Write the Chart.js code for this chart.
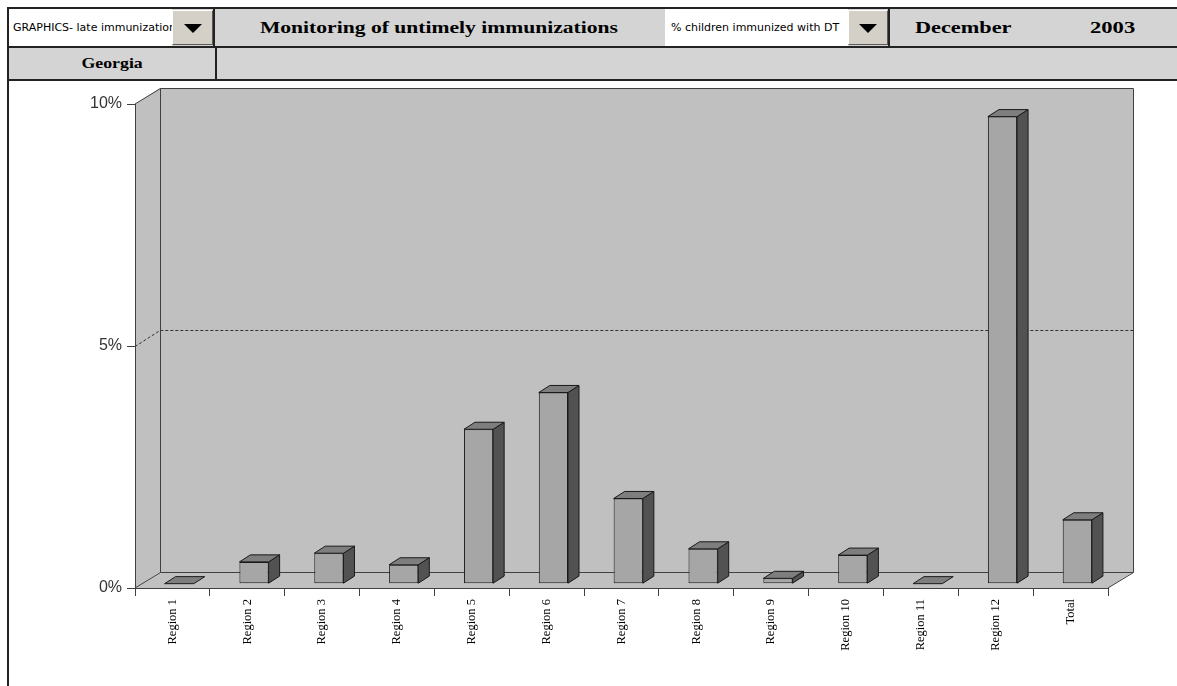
<!DOCTYPE html>
<html>
<head>
<meta charset="utf-8">
<title>Monitoring of untimely immunizations</title>
<script src="https://cdn.jsdelivr.net/npm/chart.js@4.4.1/dist/chart.umd.min.js"></script>
<style>
  html, body { margin: 0; padding: 0; background: #fff; }
  body { width: 1177px; height: 686px; position: relative; overflow: hidden; }
  .abs { position: absolute; box-sizing: border-box; }
  .frame { left: 7px; top: 7px; width: 1170px; height: 679px; border-left: 2px solid #222; border-top: 2px solid #222; }
  .head { background: #d4d4d4; }
  .white { background: #fff; }
  .line { background: #222; }
  .small { font-family: "DejaVu Sans", sans-serif; font-size: 11px; color: #000; white-space: nowrap; overflow: hidden; line-height: 37px; padding-left: 4px; }
  .bold { font-family: "Liberation Serif", "Times New Roman", serif; font-weight: bold; color: #000; white-space: nowrap; }
  .wide { display: inline-block; transform: scaleX(1.27); }
  .btn { background: #d4d0c8; border-top: 1px solid #fff; border-left: 1px solid #fff; border-right: 1px solid #5a5a5a; border-bottom: 1px solid #5a5a5a; }
  .tri { position: absolute; left: 50%; top: 50%; width: 0; height: 0; margin-left: -9px; margin-top: -4px;
         border-left: 9px solid transparent; border-right: 9px solid transparent; border-top: 9px solid #000; }
  #chart { position: absolute; left: 9px; top: 82px; }
</style>
</head>
<body>
<div class="abs frame"></div>

<!-- header band -->
<div class="abs head" style="left:9px;top:9px;width:1168px;height:71px;"></div>

<div class="abs white small" style="left:9px;top:9px;width:163px;height:37px;">GRAPHICS- late immunization</div>
<div class="abs btn" style="left:172px;top:10px;width:41px;height:35px;"><div class="tri"></div></div>
<div class="abs line" style="left:213px;top:9px;width:2px;height:38px;"></div>

<div class="abs bold" style="left:215px;top:9px;width:448px;height:37px;line-height:37px;text-align:center;font-size:17px;"><span class="wide">Monitoring of untimely immunizations</span></div>

<div class="abs white small" style="left:665px;top:9px;width:183px;height:37px;padding-left:6px;">% children immunized with DT</div>
<div class="abs btn" style="left:848px;top:10px;width:40px;height:35px;"><div class="tri"></div></div>
<div class="abs line" style="left:888px;top:9px;width:2px;height:38px;"></div>

<div class="abs bold" style="left:915px;top:9px;height:37px;line-height:37px;font-size:17px;"><span class="wide" style="transform-origin:left center;transform:scaleX(1.31);">December</span></div>
<div class="abs bold" style="left:1090px;top:9px;height:37px;line-height:37px;font-size:17px;"><span class="wide" style="transform-origin:left center;transform:scaleX(1.33);">2003</span></div>

<div class="abs line" style="left:9px;top:46px;width:1168px;height:2px;"></div>

<div class="abs bold" style="left:9px;top:48px;width:206px;height:31px;line-height:31px;text-align:center;font-size:14px;"><span class="wide">Georgia</span></div>
<div class="abs line" style="left:215px;top:48px;width:2px;height:32px;"></div>
<div class="abs line" style="left:9px;top:79px;width:1168px;height:2px;"></div>

<canvas id="chart" width="1168" height="604"></canvas>

<script>
// Regions and share of children immunized late with DT, in percent
const regions = ['Region 1', 'Region 2', 'Region 3', 'Region 4', 'Region 5', 'Region 6', 'Region 7',
                 'Region 8', 'Region 9', 'Region 10', 'Region 11', 'Region 12', 'Total'];
const lateDT = [0, 0.45, 0.63, 0.39, 3.19, 3.95, 1.76, 0.72, 0.11, 0.59, 0, 9.65, 1.32];
const yTicks = [0, 5, 10];

// depth of the box (back wall offset) and where the columns sit inside it
const depth = { dx: 25, dy: -16 };
const barShift = 0.27;   // fraction of depth in front of the columns
const barDepth = 0.44;   // fraction of depth taken by a column

const edge = '#404040';

// walls, floor and the dashed gridline on the back wall
const walls3d = {
    id: 'walls3d',
    beforeDraw(chart) {
        const ctx = chart.ctx;
        const y = chart.scales.y;
        const xl = chart.chartArea.left, xr = chart.chartArea.right;
        const yb = y.getPixelForValue(yTicks[0]);
        const yt = y.getPixelForValue(yTicks[yTicks.length - 1]);
        const dx = depth.dx, dy = depth.dy;

        ctx.save();
        ctx.fillStyle = '#c0c0c0';
        ctx.strokeStyle = edge;
        ctx.lineWidth = 1;

        // left wall
        ctx.beginPath();
        ctx.moveTo(xl, yb); ctx.lineTo(xl, yt); ctx.lineTo(xl + dx, yt + dy); ctx.lineTo(xl + dx, yb + dy);
        ctx.closePath();
        ctx.fill();

        // back wall
        ctx.fillRect(xl + dx, yt + dy, xr - xl, yb - yt);

        // floor
        ctx.beginPath();
        ctx.moveTo(xl, yb); ctx.lineTo(xr, yb); ctx.lineTo(xr + dx, yb + dy); ctx.lineTo(xl + dx, yb + dy);
        ctx.closePath();
        ctx.fill();

        // dashed gridlines between min and max
        ctx.setLineDash([3, 2]);
        ctx.strokeStyle = '#333';
        yTicks.slice(1, -1).forEach(v => {
            const py = Math.round(y.getPixelForValue(v)) + 0.5;
            ctx.beginPath();
            ctx.moveTo(xl, py);
            ctx.lineTo(xl + dx, py + dy);
            ctx.lineTo(xr + dx, py + dy);
            ctx.stroke();
        });
        ctx.setLineDash([]);

        // box edges
        ctx.strokeStyle = edge;
        const bx = Math.round(xl + dx) + 0.5, bxr = Math.round(xr + dx) + 0.5;
        const byt = Math.round(yt + dy) + 0.5, byb = Math.round(yb + dy) + 0.5;
        ctx.beginPath();
        ctx.moveTo(xl, yt); ctx.lineTo(bx, byt);
        ctx.lineTo(bxr, byt); ctx.lineTo(bxr, byb);
        ctx.moveTo(bx, byt); ctx.lineTo(bx, byb); ctx.lineTo(bxr, byb);
        ctx.moveTo(xl, yb); ctx.lineTo(bx, byb);
        ctx.moveTo(xr, yb); ctx.lineTo(bxr, byb);
        ctx.stroke();
        ctx.restore();
    },
    // columns sit part way into the box
    beforeDatasetsDraw(chart) {
        chart.ctx.save();
        chart.ctx.translate(depth.dx * barShift, depth.dy * barShift);
    },
    afterDatasetsDraw(chart) {
        const ctx = chart.ctx;
        ctx.restore();
        const ox = depth.dx * barShift, oy = depth.dy * barShift;
        const bdx = depth.dx * barDepth, bdy = depth.dy * barDepth;
        ctx.save();
        ctx.strokeStyle = '#1a1a1a';
        ctx.lineWidth = 1;
        ctx.lineJoin = 'round';
        chart.getDatasetMeta(0).data.forEach(bar => {
            const l = bar.x - bar.width / 2 + ox, r = bar.x + bar.width / 2 + ox;
            const t = bar.y + oy, b = bar.base + oy;
            // right side
            if (b - t > 0.5) {
                ctx.fillStyle = '#525252';
                ctx.beginPath();
                ctx.moveTo(r, t); ctx.lineTo(r + bdx, t + bdy); ctx.lineTo(r + bdx, b + bdy); ctx.lineTo(r, b);
                ctx.closePath();
                ctx.fill(); ctx.stroke();
            }
            // top
            ctx.fillStyle = '#7e7e7e';
            ctx.beginPath();
            ctx.moveTo(l, t); ctx.lineTo(r, t); ctx.lineTo(r + bdx, t + bdy); ctx.lineTo(l + bdx, t + bdy);
            ctx.closePath();
            ctx.fill(); ctx.stroke();
        });
        ctx.restore();
    }
};

new Chart(document.getElementById('chart'), {
    type: 'bar',
    data: {
        labels: regions,
        datasets: [{
            data: lateDT,
            backgroundColor: '#a6a6a6',
            borderColor: '#1a1a1a',
            borderWidth: 1,
            borderSkipped: false,
            barPercentage: 0.39,
            categoryPercentage: 1,
            clip: false
        }]
    },
    options: {
        responsive: false,
        animation: false,
        layout: { padding: { left: 0, right: 69, top: 22, bottom: 0 } },
        plugins: {
            legend: { display: false },
            tooltip: { enabled: false }
        },
        scales: {
            x: {
                offset: true,
                grid: { offset: true, drawOnChartArea: false, tickLength: 8, color: edge },
                border: { color: edge },
                ticks: {
                    autoSkip: false,
                    minRotation: 90,
                    maxRotation: 90,
                    padding: 3,
                    color: '#000',
                    font: { family: 'Liberation Serif', size: 12.5 }
                },
                afterFit(scale) { scale.height = 98; }
            },
            y: {
                min: yTicks[0],
                max: yTicks[yTicks.length - 1],
                afterBuildTicks(scale) { scale.ticks = yTicks.map(v => ({ value: v })); },
                grid: { drawOnChartArea: false, tickLength: 8, color: edge },
                border: { color: edge },
                ticks: {
                    padding: 5,
                    color: '#333',
                    font: { family: 'Liberation Sans', size: 16 },
                    callback: v => v + '%'
                },
                afterFit(scale) { scale.width = 126; }
            }
        }
    },
    plugins: [walls3d]
});
</script>
</body>
</html>
